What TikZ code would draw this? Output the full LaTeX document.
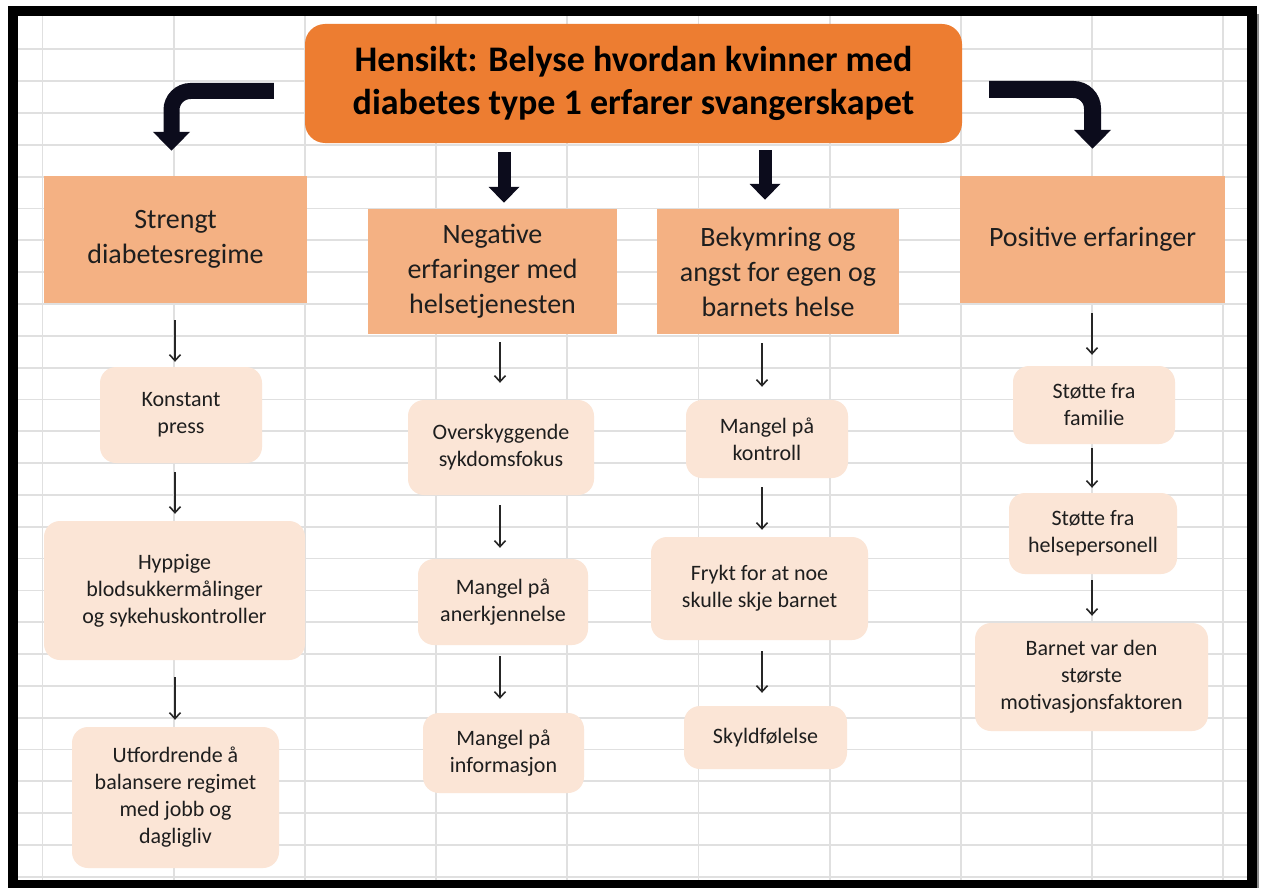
\documentclass[tikz,border=0pt]{standalone}
\usepackage{fontspec}
\setmainfont{Carlito}
\usetikzlibrary{arrows.meta,calc}
\definecolor{titleor}{HTML}{ED7D31}
\definecolor{catfill}{HTML}{F4B183}
\definecolor{subfill}{HTML}{FBE5D6}
\definecolor{gridcol}{HTML}{E0E0E0}
\definecolor{bigarr}{RGB}{12,12,28}
\definecolor{txt}{HTML}{1E1E1E}
\begin{document}
\begin{tikzpicture}[x=1pt,y=-1pt,
  titlebox/.style={fill=titleor, rounded corners=20pt, inner sep=0pt, align=center, text=black, font=\bfseries\fontsize{36}{43}\selectfont},
  catbox/.style={fill=catfill, inner sep=0pt, align=center, text=txt, font=\fontsize{28}{35}\selectfont},
  subbox/.style={fill=subfill, rounded corners=16pt, inner sep=0pt, align=center, text=txt, font=\fontsize{22}{27}\selectfont},
  bigarrow/.style={draw=bigarr, line width=16pt, rounded corners=19pt, -{Triangle[length=19pt,width=36pt]}},
  midarrow/.style={draw=bigarr, line width=13pt, -{Triangle[length=16pt,width=30pt]}},
  thinarrow/.style={draw=black!85, line width=1.6pt, -{Straight Barb[length=6pt,width=11pt]}},
  gridline/.style={draw=gridcol, line width=1.8pt}]
\useasboundingbox (0,0) rectangle (1263,888);
\fill[white] (0,0) rectangle (1263,888);
% spreadsheet grid
\foreach \i in {0,...,9} \draw[gridline] ({42.5+131.2*\i},16) -- ({42.5+131.2*\i},881);
\foreach \j in {0,...,26} \draw[gridline] (18,{49.3+31.83*\j}) -- (1247,{49.3+31.83*\j});
% frame
\draw[black!45, line width=4pt] (1257,14) -- (1257,888);
\draw[line width=10pt] (13,11) rectangle (1252,884.5);
% column coordinates
\coordinate (c1) at (175,0);
\coordinate (c2) at (500,0);
\coordinate (c3) at (762,0);
\coordinate (c4) at (1092,0);
% title
\node[titlebox, minimum width=657pt, minimum height=119pt] (title) at (633.5,83.5)
  {Hensikt: Belyse hvordan kvinner med\\diabetes type 1 erfarer svangerskapet};
% categories
\node[catbox, minimum width=263pt, minimum height=127pt] (strengt) at (175.5,239.5) {Strengt\\diabetesregime};
\node[catbox, minimum width=249pt, minimum height=125pt] (neg) at (492.5,271.5) {Negative\\erfaringer med\\helsetjenesten};
\node[catbox, minimum width=242pt, minimum height=125pt] (bek) at (778,271.5) {Bekymring og\\angst for egen og\\barnets helse};
\node[catbox, minimum width=265pt, minimum height=127pt] (pos) at (1092.5,239.5) {Positive erfaringer};
% sub boxes column 1
\node[subbox, minimum width=162pt, minimum height=96pt] (kp) at (181,415) {Konstant\\press};
\node[subbox, minimum width=261pt, minimum height=139pt] (hyp) at (174.5,590.5) {Hyppige\\blodsukkermålinger\\og sykehuskontroller};
\node[subbox, minimum width=207pt, minimum height=141pt] (utf) at (175.5,797.5) {Utfordrende å\\balansere regimet\\med jobb og\\dagligliv};
% column 2
\node[subbox, minimum width=186pt, minimum height=95pt] (ovr) at (501,447.5) {Overskyggende\\sykdomsfokus};
\node[subbox, minimum width=170pt, minimum height=86pt] (anr) at (503,602) {Mangel på\\anerkjennelse};
\node[subbox, minimum width=161pt, minimum height=80pt] (inf) at (503.5,753) {Mangel på\\informasjon};
% column 3
\node[subbox, minimum width=162pt, minimum height=78pt] (kon) at (767,439) {Mangel på\\kontroll};
\node[subbox, minimum width=217pt, minimum height=103pt] (fry) at (759.5,588.5) {Frykt for at noe\\skulle skje barnet};
\node[subbox, minimum width=163pt, minimum height=63pt] (sky) at (765.5,737.5) {Skyldfølelse};
% column 4
\node[subbox, minimum width=162pt, minimum height=78pt] (fam) at (1094,405) {Støtte fra\\familie};
\node[subbox, minimum width=168pt, minimum height=81pt] (hel) at (1093,533.5) {Støtte fra\\helsepersonell};
\node[subbox, minimum width=233pt, minimum height=108pt] (bar) at (1091.5,677) {Barnet var den\\største\\motivasjonsfaktoren};
% big arrows from title
\draw[bigarrow] ($(title.west)+(-31,7.5)$) -- ($(title.west -| strengt.north)+(-4,7.5)$) -- ($(strengt.north)+(-4,-25)$);
\draw[bigarrow, line width=17pt] ($(title.east)+(27,6)$) -- ($(title.east -| pos.north)+(0,6)$) -- ($(pos.north)+(0,-27)$);
\draw[midarrow] ($(title.south -| neg.north)+(11.5,9)$) -- ($(neg.north)+(11.5,-6)$);
\draw[midarrow] ($(title.south -| bek.north)+(-13,7)$) -- ($(bek.north)+(-13,-9)$);
% thin arrows column 1
\draw[thinarrow] ($(strengt.south -| c1)+(0,17)$) -- ($(kp.north -| c1)+(0,-5)$);
\draw[thinarrow] ($(kp.south -| c1)+(0,9)$) -- ($(hyp.north -| c1)+(0,-7)$);
\draw[thinarrow] ($(hyp.south -| c1)+(0,17)$) -- ($(utf.north -| c1)+(0,-7)$);
% column 2
\draw[thinarrow] ($(neg.south -| c2)+(0,8)$) -- ($(ovr.north -| c2)+(0,-17)$);
\draw[thinarrow] ($(ovr.south -| c2)+(0,10)$) -- ($(anr.north -| c2)+(0,-11)$);
\draw[thinarrow] ($(anr.south -| c2)+(0,11)$) -- ($(inf.north -| c2)+(0,-14)$);
% column 3
\draw[thinarrow] ($(bek.south -| c3)+(0,9)$) -- ($(kon.north -| c3)+(0,-13)$);
\draw[thinarrow] ($(kon.south -| c3)+(0,9)$) -- ($(fry.north -| c3)+(0,-7)$);
\draw[thinarrow] ($(fry.south -| c3)+(0,11)$) -- ($(sky.north -| c3)+(0,-13)$);
% column 4
\draw[thinarrow] ($(pos.south -| c4)+(0,10)$) -- ($(fam.north -| c4)+(0,-11)$);
\draw[thinarrow] ($(fam.south -| c4)+(0,4)$) -- ($(hel.north -| c4)+(0,-5)$);
\draw[thinarrow] ($(hel.south -| c4)+(0,6)$) -- ($(bar.north -| c4)+(0,-7)$);
\end{tikzpicture}
\end{document}
